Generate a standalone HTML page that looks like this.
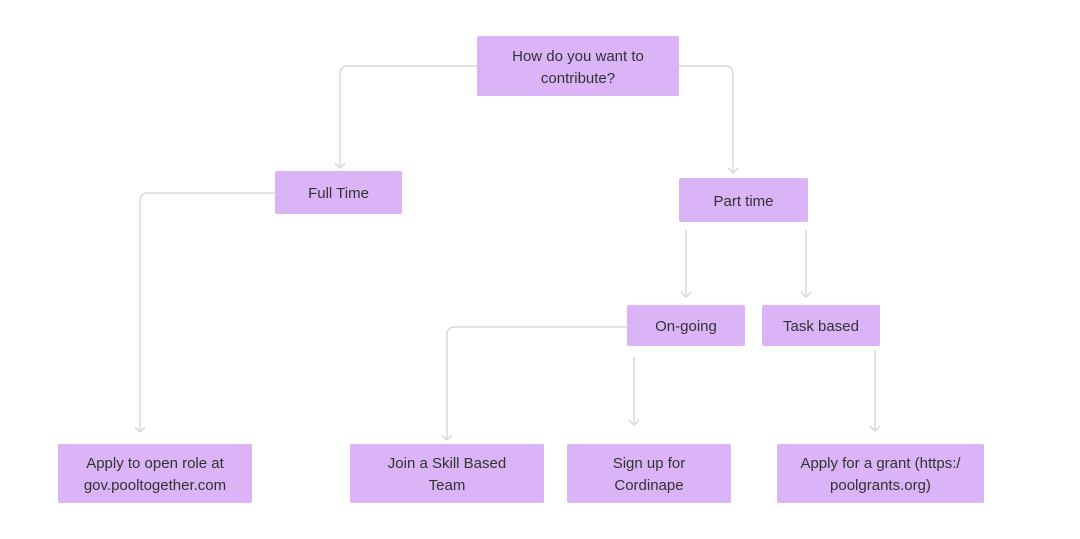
<!DOCTYPE html>
<html><head><meta charset="utf-8"><style>
html,body{margin:0;padding:0;background:#fff;}
body{width:1080px;height:539px;position:relative;overflow:hidden;font-family:"Liberation Sans",sans-serif;}
.b{position:absolute;background:#dab4f6;color:#333;font-size:15px;line-height:22px;display:flex;align-items:center;justify-content:center;text-align:center;border-radius:2px;box-sizing:border-box;padding-top:3px;}
svg{position:absolute;left:0;top:0;}
</style></head><body>
<svg width="1080" height="539" fill="none" stroke="#d2d2d2" stroke-width="1.3">
<path d="M477 66 H348 Q340 66 340 74 V168"/><path d="M335 163 L340 168 L345 163"/>
<path d="M679 66 H725 Q733 66 733 74 V173"/><path d="M728 168 L733 173 L738 168"/>
<path d="M275 193 H148 Q140 193 140 201 V432"/><path d="M135 427 L140 432 L145 427"/>
<path d="M686 230 V297"/><path d="M681 292 L686 297 L691 292"/>
<path d="M806 230 V297"/><path d="M801 292 L806 297 L811 292"/>
<path d="M627 327 H455 Q447 327 447 335 V440"/><path d="M442 435 L447 440 L452 435"/>
<path d="M634 357 V425"/><path d="M629 420 L634 425 L639 420"/>
<path d="M875 350 V431"/><path d="M870 426 L875 431 L880 426"/>
</svg>
<div class="b" style="left:477px;top:36px;width:202px;height:60px">How do you want to<br>contribute?</div>
<div class="b" style="left:275px;top:171px;width:127px;height:43px">Full Time</div>
<div class="b" style="left:679px;top:178px;width:129px;height:44px">Part time</div>
<div class="b" style="left:627px;top:305px;width:118px;height:41px">On-going</div>
<div class="b" style="left:762px;top:305px;width:118px;height:41px">Task based</div>
<div class="b" style="left:58px;top:444px;width:194px;height:59px">Apply to open role at<br>gov.pooltogether.com</div>
<div class="b" style="left:350px;top:444px;width:194px;height:59px">Join a Skill Based<br>Team</div>
<div class="b" style="left:567px;top:444px;width:164px;height:59px">Sign up for<br>Cordinape</div>
<div class="b" style="left:777px;top:444px;width:207px;height:59px">Apply for a grant (https:/<br>poolgrants.org)</div>
</body></html>
